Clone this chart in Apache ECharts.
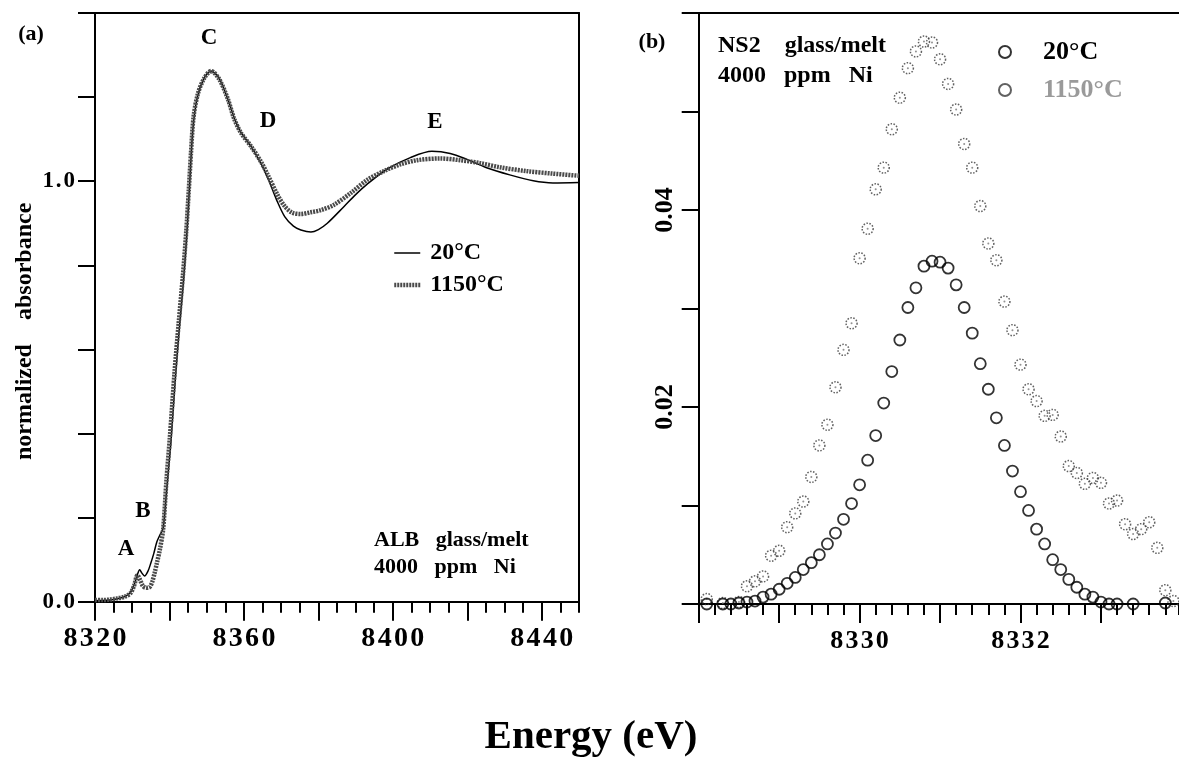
<!DOCTYPE html>
<html><head><meta charset="utf-8">
<script src="https://cdn.jsdelivr.net/npm/echarts@6/dist/echarts.min.js"></script>
<style>html,body{margin:0;padding:0;background:#fff}#c{width:1179px;height:763px}</style>
</head><body><div id="c"></div><script>
const FONT = "'Liberation Serif','Times New Roman',serif";

// ---- panel (a): ALB glass/melt, Ni K-edge XANES ----
const albEnergy20 = [8320,8322,8324,8326,8328,8329.5,8330.5,8331.3,8332.0,8332.6,8333.3,8334.2,8335.0,8335.8,8336.6,8337.4,8338.3,8339.1,8339.7,8340.4,8341.5,8342.6,8343.7,8344.6,8345.4,8346.3,8347.5,8349.3,8351.2,8353.3,8355.6,8357.4,8359.2,8361.9,8364.6,8366.4,8368.8,8371.0,8373.3,8375.3,8378.0,8380.0,8382.4,8386.9,8390.0,8393.1,8398.5,8404.7,8410.5,8415.4,8419.9,8425.2,8431.4,8437.7,8443.0,8450.0];
const albAbs20 = [0.002,0.003,0.004,0.007,0.012,0.022,0.040,0.062,0.076,0.068,0.061,0.072,0.092,0.115,0.142,0.158,0.175,0.25,0.31,0.38,0.52,0.645,0.755,0.865,0.99,1.125,1.20,1.245,1.262,1.245,1.197,1.150,1.116,1.083,1.042,1.008,0.955,0.915,0.893,0.884,0.879,0.885,0.900,0.940,0.968,0.993,1.029,1.056,1.071,1.066,1.052,1.032,1.015,1.001,0.996,0.997];
const albEnergy1150 = [8320,8322,8324,8326,8328,8329.5,8330.5,8331.4,8332.1,8332.9,8333.8,8334.7,8335.4,8336.0,8336.7,8337.4,8338.3,8339.2,8340.1,8341.4,8342.5,8343.6,8344.5,8345.2,8345.8,8346.5,8347.7,8349.4,8351.2,8353.4,8355.7,8357.4,8359.2,8361.9,8364.6,8366.4,8369.0,8371.0,8373.0,8375.3,8377.9,8380.6,8384.2,8388.7,8393.1,8397.6,8402.0,8406.5,8412.7,8418.1,8423.4,8428.8,8435.9,8443.0,8450.0];
const albAbs1150 = [0.004,0.004,0.005,0.008,0.012,0.020,0.038,0.063,0.052,0.037,0.033,0.035,0.048,0.068,0.095,0.123,0.172,0.29,0.39,0.55,0.665,0.775,0.88,0.98,1.07,1.155,1.21,1.246,1.262,1.242,1.195,1.148,1.115,1.083,1.046,1.015,0.968,0.940,0.925,0.922,0.926,0.931,0.944,0.972,1.003,1.024,1.040,1.050,1.054,1.050,1.043,1.033,1.024,1.018,1.013];

// ---- panel (b): NS2 glass/melt, pre-edge ----
const ns2Energy20 = [8328.1,8328.3,8328.4,8328.5,8328.6,8328.7,8328.8,8328.9,8329.0,8329.1,8329.2,8329.3,8329.4,8329.5,8329.6,8329.7,8329.8,8329.9,8330.0,8330.1,8330.2,8330.3,8330.4,8330.5,8330.6,8330.7,8330.8,8330.9,8331.0,8331.1,8331.2,8331.3,8331.4,8331.5,8331.6,8331.7,8331.8,8331.9,8332.0,8332.1,8332.2,8332.3,8332.4,8332.5,8332.6,8332.7,8332.8,8332.9,8333.0,8333.1,8333.2,8333.4,8333.8];
const ns2Abs20 = [0.0000,0.0000,0.0000,0.0001,0.0002,0.0003,0.0007,0.0010,0.0015,0.0021,0.0027,0.0035,0.0042,0.0050,0.0061,0.0072,0.0086,0.0102,0.0121,0.0146,0.0171,0.0204,0.0236,0.0268,0.0301,0.0321,0.0343,0.0348,0.0347,0.0341,0.0324,0.0301,0.0275,0.0244,0.0218,0.0189,0.0161,0.0135,0.0114,0.0095,0.0076,0.0061,0.0045,0.0035,0.0025,0.0017,0.0010,0.0007,0.0002,0.0000,0.0000,0.0000,0.0001];
const ns2Energy1150 = [8328.1,8328.3,8328.5,8328.6,8328.7,8328.8,8328.9,8329.0,8329.1,8329.2,8329.3,8329.4,8329.5,8329.6,8329.7,8329.8,8329.9,8330.0,8330.1,8330.2,8330.3,8330.4,8330.5,8330.6,8330.7,8330.8,8330.9,8331.0,8331.1,8331.2,8331.3,8331.4,8331.5,8331.6,8331.7,8331.8,8331.9,8332.0,8332.1,8332.2,8332.3,8332.4,8332.5,8332.6,8332.7,8332.8,8332.9,8333.0,8333.1,8333.2,8333.3,8333.4,8333.5,8333.6,8333.7,8333.8,8333.9];
const ns2Abs1150 = [0.0005,0.0001,0.0002,0.0018,0.0023,0.0028,0.0049,0.0054,0.0078,0.0092,0.0104,0.0129,0.0161,0.0182,0.0220,0.0258,0.0285,0.0351,0.0381,0.0421,0.0443,0.0482,0.0514,0.0544,0.0561,0.0571,0.0570,0.0553,0.0528,0.0502,0.0467,0.0443,0.0404,0.0366,0.0349,0.0307,0.0278,0.0243,0.0218,0.0206,0.0191,0.0192,0.0170,0.0140,0.0133,0.0122,0.0128,0.0123,0.0102,0.0105,0.0081,0.0071,0.0076,0.0083,0.0057,0.0014,0.0003];

// ---- tick labels ----
const xLabelsA = [8320, 8360, 8400, 8440];
const xMajorA = [8320, 8340, 8360, 8380, 8400, 8420, 8440];
const yLabelsA = ['0.0', '1.0'];
const xLabelsB = [8330, 8332];
const xMajorB = [8328, 8329, 8330, 8331, 8332, 8333];
const yLabelsB = ['0.02', '0.04'];
const seriesNames = ['20°C', '1150°C'];

const zip = (xs, ys) => xs.map((x, i) => [x, ys[i]]);
const near = (v, arr) => arr.some(a => Math.abs(v - Number(a)) < 1e-6);
const spaced = (s, sp) => s.split('').join(sp);   // wide letter spacing, as in the print
const BLACK = '#000';
const axisLine = {show: true, lineStyle: {color: BLACK, width: 2}};
const lab = (size) => ({color: BLACK, fontFamily: FONT, fontWeight: 'bold', fontSize: size});
const txt = (s, x, y, size, extra) => ({type: 'text', x, y, silent: true,
  style: Object.assign({text: s, fill: BLACK, font: 'bold ' + size + 'px ' + FONT, align: 'center', verticalAlign: 'middle'}, extra || {})});

const chart = echarts.init(document.getElementById('c'), null, {renderer: 'canvas'});
chart.setOption({
  animation: false,
  backgroundColor: '#fff',
  grid: [
    {left: 95, top: 13, width: 484, height: 588.7},
    {left: 698.7, top: 13, right: 0, height: 591}
  ],
  xAxis: [
    {gridIndex: 0, type: 'value', min: 8320, max: 8450, interval: 5, position: 'bottom',
     axisLine, axisTick: {show: true, length: 11, lineStyle: {color: BLACK, width: 2}},
     axisLabel: {show: false}, splitLine: {show: false}},
    {gridIndex: 0, type: 'value', min: 8320, max: 8450, interval: 20, position: 'bottom',
     axisLine: {show: false},
     axisTick: {show: true, length: 19, customValues: xMajorA, lineStyle: {color: BLACK, width: 2}},
     axisLabel: Object.assign({margin: 23, customValues: xLabelsA,
       formatter: v => near(v, xLabelsA) ? spaced(String(v), '\u200a') : ''}, lab(28)),
     splitLine: {show: false}},
    {gridIndex: 0, type: 'value', min: 8320, max: 8450, position: 'top', axisLine,
     axisTick: {show: false}, axisLabel: {show: false}, splitLine: {show: false}},
    {gridIndex: 1, type: 'value', min: 8328, max: 8333.97, interval: 0.2, position: 'bottom',
     axisLine, axisTick: {show: true, length: 11, lineStyle: {color: BLACK, width: 2}},
     axisLabel: {show: false}, splitLine: {show: false}},
    {gridIndex: 1, type: 'value', min: 8328, max: 8333.97, interval: 1, position: 'bottom',
     axisLine: {show: false},
     axisTick: {show: true, length: 19, customValues: xMajorB, lineStyle: {color: BLACK, width: 2}},
     axisLabel: Object.assign({margin: 24, customValues: xLabelsB,
       formatter: v => near(v, xLabelsB) ? spaced(String(v), '\u200a') : ''}, lab(26)),
     splitLine: {show: false}},
    {gridIndex: 1, type: 'value', min: 8328, max: 8333.97, position: 'top', axisLine,
     axisTick: {show: false}, axisLabel: {show: false}, splitLine: {show: false}}
  ],
  yAxis: [
    {gridIndex: 0, type: 'value', min: 0, max: 1.4, interval: 0.2, position: 'left', axisLine,
     axisTick: {show: true, length: 17, lineStyle: {color: BLACK, width: 2}},
     axisLabel: Object.assign({margin: 20, formatter: v => near(v, yLabelsA) ? spaced(Number(v).toFixed(1), '\u200a') : ''}, lab(23)),
     splitLine: {show: false},
     name: 'normalized    absorbance', nameLocation: 'middle', nameGap: 58, nameRotate: 90,
     nameTextStyle: Object.assign({padding: [0, 48, 0, 0]}, lab(24))},
    {gridIndex: 0, type: 'value', min: 0, max: 1.4, position: 'right', axisLine,
     axisTick: {show: false}, axisLabel: {show: false}, splitLine: {show: false}},
    {gridIndex: 1, type: 'value', min: 0, max: 0.06, interval: 0.01, position: 'left', axisLine,
     axisTick: {show: true, length: 17, lineStyle: {color: BLACK, width: 2}},
     axisLabel: Object.assign({margin: 20, rotate: 90, formatter: v => near(v, yLabelsB) ? Number(v).toFixed(2) : ''}, lab(26)),
     splitLine: {show: false}}
  ],
  legend: [
    {data: seriesNames, selectedMode: false, orient: 'vertical', left: 387, top: 236,
     itemWidth: 26, itemHeight: 14, itemGap: 8, itemStyle: {opacity: 0}, lineStyle: {width: 'inherit'},
     textStyle: Object.assign({padding: [0, 0, 0, 5]}, lab(24))},
    {data: [{name: 'NS2 ' + seriesNames[0]}, {name: 'NS2 ' + seriesNames[1], textStyle: {color: '#9a9a9a'}}],
     formatter: n => n.replace('NS2 ', ''), selectedMode: false, orient: 'vertical', left: 993, top: 34,
     itemWidth: 12, itemHeight: 12, itemGap: 12, textStyle: Object.assign({padding: [0, 0, 0, 27]}, lab(26))}
  ],
  series: [
    {type: 'line', name: seriesNames[0], xAxisIndex: 0, yAxisIndex: 0, data: zip(albEnergy20, albAbs20),
     symbol: 'none', smooth: 0.3, lineStyle: {color: BLACK, width: 1.5}, itemStyle: {color: BLACK}, z: 2},
    {type: 'line', name: seriesNames[1], xAxisIndex: 0, yAxisIndex: 0, data: zip(albEnergy1150, albAbs1150),
     symbol: 'none', smooth: 0.3, lineStyle: {color: '#4a4a4a', width: 4.5, type: [2, 1]}, itemStyle: {color: '#4a4a4a'}, z: 3},
    {type: 'scatter', name: 'NS2 ' + seriesNames[1], xAxisIndex: 3, yAxisIndex: 2, data: zip(ns2Energy1150, ns2Abs1150),
     symbol: 'circle', symbolSize: 11,
     itemStyle: {color: 'rgba(255,255,255,0)', borderColor: '#3a3a3a', borderWidth: 1.5, borderType: 'dotted'}, z: 3},
    {type: 'scatter', name: 'dots', xAxisIndex: 3, yAxisIndex: 2, data: zip(ns2Energy1150, ns2Abs1150),
     symbol: 'circle', symbolSize: 2, itemStyle: {color: '#777'}, silent: true, z: 3},
    {type: 'scatter', name: 'NS2 ' + seriesNames[0], xAxisIndex: 3, yAxisIndex: 2, data: zip(ns2Energy20, ns2Abs20),
     symbol: 'circle', symbolSize: 11,
     itemStyle: {color: 'rgba(255,255,255,0)', borderColor: BLACK, borderWidth: 1.8}, z: 4}
  ],
  graphic: [
    txt('(a)', 31, 34, 22),
    txt('(b)', 652, 42, 22),
    txt('C', 209, 38, 23),
    txt('D', 268, 121, 23),
    txt('E', 435, 122, 23),
    txt('B', 143, 511, 23),
    txt('A', 126, 549, 23),
    txt('ALB   glass/melt\n4000   ppm   Ni', 374, 554, 22, {align: 'left', lineHeight: 27}),
    txt('NS2    glass/melt\n4000   ppm   Ni', 718, 61, 24, {align: 'left', lineHeight: 30}),
    txt('Energy (eV)', 591, 737, 41)
  ]
});
</script></body></html>
